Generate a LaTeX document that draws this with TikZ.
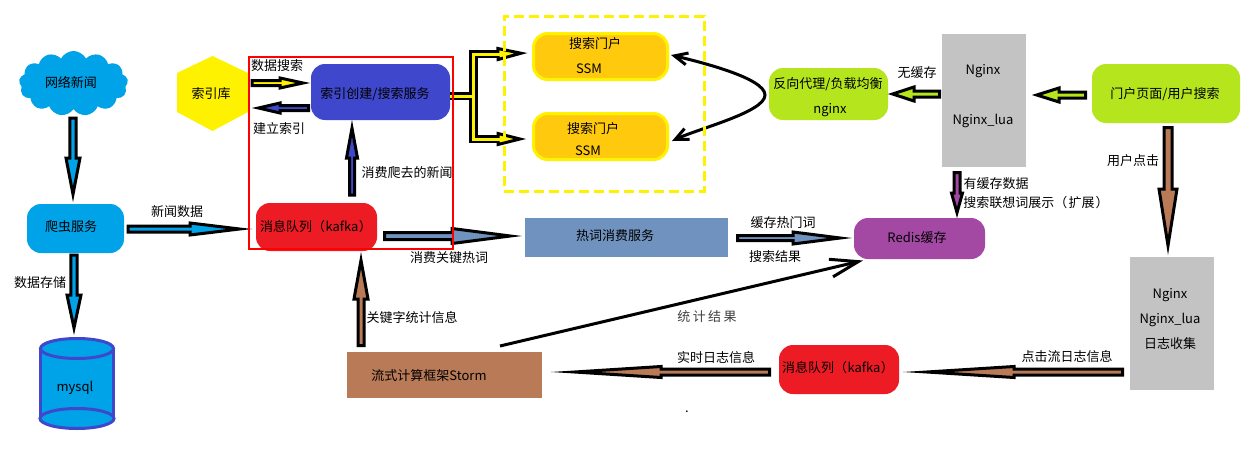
\documentclass[tikz,border=0pt]{standalone}
\usepackage{fontspec}
\setmainfont{Noto Sans CJK SC}
\usetikzlibrary{calc,arrows.meta,shapes.symbols}
\definecolor{cyanfill}{HTML}{00A2E8}
\definecolor{indigofill}{HTML}{3F48CC}
\definecolor{redfill}{HTML}{ED1C24}
\definecolor{yellowfill}{HTML}{FFF200}
\definecolor{amberfill}{HTML}{FFC90E}
\definecolor{limefill}{HTML}{B5E61D}
\definecolor{greyfill}{HTML}{C3C3C3}
\definecolor{steelfill}{HTML}{7092BE}
\definecolor{purplefill}{HTML}{A349A4}
\definecolor{brownfill}{HTML}{B97A57}
\newcommand\off[3]{\raisebox{\dimexpr -#2pt - 4.6pt\relax}{\makebox[0pt][c]{\hspace*{#1pt}\hspace*{#1pt}#3}}}
\newcommand\tx[1]{\off{0}{0}{#1}}
\tikzset{
  every node/.style={inner sep=0pt,outer sep=0pt,text height=0pt,text depth=0pt,font=\fontsize{13}{15}\selectfont},
  lbl/.style={},
  rbox/.style={rectangle,rounded corners=14pt,minimum width=#1},
  sbox/.style={rectangle,minimum width=#1},
  blockarrow/.style n args={4}{draw=black,fill=#1,line width=3pt,line join=miter,miter limit=80,
    to path={let \p1=($(\tikztotarget)-(\tikztostart)$),\n1={atan2(\y1,\x1)},\n2={veclen(\x1,\y1)} in
      {[shift={(\tikztostart)},rotate=\n1]
       (0pt,#2pt) -- (\n2-#4pt,#2pt) -- (\n2-#4pt,#3pt) -- ({\n2-1.5pt*#4/(#3+1.5)},0pt) -- (\n2-#4pt,-#3pt) -- (\n2-#4pt,-#2pt) -- (0pt,-#2pt) -- cycle}}},
  headonly/.style n args={3}{draw=black,fill=#1,line width=3pt,line join=miter,miter limit=80,
    to path={let \p1=($(\tikztotarget)-(\tikztostart)$),\n1={atan2(\y1,\x1)},\n2={veclen(\x1,\y1)} in
      {[shift={(\tikztostart)},rotate=\n1]
       (0pt,#2pt) -- (\n2-7pt,0pt) -- (0pt,-#2pt) -- cycle}}},
  barbline/.style={draw=black,line width=3pt},
}
\begin{document}
\begin{tikzpicture}[x=1pt,y=-1pt]
\useasboundingbox[fill=white] (0,0) rectangle (1256,458);
% hexagon and cylinder bodies
\fill[yellowfill] (212.5,56) -- (248,73) -- (248,112) -- (212.5,131) -- (177,112) -- (177,73) -- cycle;
\fill[cyanfill] (40.5,348.5) rectangle (113.5,418.5);
\draw[indigofill,line width=3pt] (40.5,348.5) -- (40.5,418.5) (113.5,348.5) -- (113.5,418.5);
\draw[indigofill,line width=3pt,fill=cyanfill] (77,418.5) ellipse (37 and 10);
\draw[indigofill,line width=3pt,fill=cyanfill] (77,348.5) ellipse (36.5 and 10);
% nodes
\node[cloud,cloud puffs=13,cloud puff arc=125,cloud ignores aspect,minimum width=109pt,minimum height=65pt,fill=cyanfill] (news) at (73.5,83.5) {\off{-2.5}{-0.5}{网络新闻}};
\node[rbox=97pt,minimum height=49pt,fill=cyanfill] (crawler) at (75.5,228.5) {\off{-4.5}{-1.5}{爬虫服务}};
\node[minimum width=73pt,minimum height=90pt] (mysql) at (77,383.5) {\off{-2}{3.5}{mysql}};
\node[minimum width=71pt,minimum height=75pt] (lib) at (212.5,93.5) {\off{-1.5}{0.5}{索引库}};
\node[rbox=139pt,minimum height=56pt,fill=indigofill] (search) at (380.5,92) {\off{-5.5}{2}{索引创建/搜索服务}};
\node[rbox=121pt,minimum height=48pt,fill=redfill] (kafkaa) at (316.5,227) {\off{-0.5}{0}{消息队列（\hspace{0.5pt}kafka\hspace{0.5pt}）}};
\node[sbox=203pt,minimum height=39pt,fill=steelfill] (hot) at (626.5,237.5) {\off{-11.5}{-1.5}{热词消费服务}};
\node[rbox=134pt,minimum height=46pt,draw=yellowfill,line width=3pt,fill=amberfill] (portala) at (600.5,56.5) {\off{-5.5}{-12.5}{搜索门户}\off{-11.5}{12.5}{SSM}};
\node[rbox=134pt,minimum height=46pt,draw=yellowfill,line width=3pt,fill=amberfill] (portalb) at (600.5,136.5) {\off{-7.5}{-7.5}{搜索门户}\off{-12.5}{14.5}{SSM}};
\node[rbox=119pt,minimum height=52pt,fill=limefill] (proxy) at (828.5,94) {\off{-0.5}{-10}{反向代理/负载均衡}\off{1.5}{15}{nginx}};
\node[sbox=84pt,minimum height=133pt,fill=greyfill] (nginx) at (984,100.5) {\off{-1}{-30.5}{Nginx}\off{-1}{19.5}{Nginx\_lua}};
\node[rbox=148pt,minimum height=59pt,fill=limefill] (page) at (1166,93.5) {\off{-1}{0.5}{门户页面/用户搜索}};
\node[rbox=131pt,minimum height=41pt,fill=purplefill] (redis) at (919.5,238.5) {\off{-2.5}{-0.5}{Redis缓存}};
\node[sbox=195pt,minimum height=46pt,fill=brownfill] (storm) at (444.5,375) {\off{-15.5}{1}{流式计算框架Storm}};
\node[rbox=120pt,minimum height=49pt,fill=redfill] (kafkab) at (839,369.5) {\off{-1}{-1.5}{消息队列（\hspace{0.5pt}kafka\hspace{0.5pt}）}};
\node[sbox=84pt,minimum height=133pt,fill=greyfill] (logs) at (1172,323.5) {\off{-2}{-29.5}{Nginx}\off{-2}{-4.5}{Nginx\_lua}\off{-2}{20.5}{日志收集}};
% block arrows
\draw[blockarrow={cyanfill}{3.2}{7}{44}] ($(news.center)+(-0.5,34.5)$) to ($(crawler.north)+(-2.5,-2)$);
\draw[blockarrow={cyanfill}{3.2}{7}{40}] ($(crawler.south)+(-1.5,2)$) to ($(mysql.north)+(-3,-3.5)$);
\draw[blockarrow={cyanfill}{3}{6}{62}] ($(crawler.east)+(4,0.5)$) to ($(kafkaa.west)+(-4,2)$);
\draw[blockarrow={yellowfill}{2.5}{5}{30}] ($(lib.east)+(4,-10.5)$) to ($(search.west)+(-1,-9)$);
\draw[blockarrow={indigofill}{2.5}{5}{28}] ($(search.west)+(-2.5,16)$) to ($(lib.east)+(4,14.5)$);
\draw[blockarrow={indigofill}{2.5}{5.5}{38}] ($(kafkaa.north)+(35.5,-8)$) to ($(search.south)+(-28.5,0)$);
\draw[blockarrow={steelfill}{3.5}{7.5}{70}] ($(kafkaa.east)+(7.5,9)$) to ($(hot.west)+(-3,-1.5)$);
\draw[blockarrow={steelfill}{2.5}{6}{59}] ($(hot.east)+(9.5,0.5)$) to ($(redis.west)+(-2,-0.5)$);
\draw[blockarrow={brownfill}{3}{7}{47}] ($(storm.north)+(-83.5,-6.5)$) to ($(kafkaa.south)+(44.5,1)$);
\draw[blockarrow={brownfill}{3}{5.5}{110}] ($(kafkab.west)+(-9.5,2.5)$) to ($(storm.east)+(9,-3)$);
\draw[blockarrow={brownfill}{3}{5.5}{111}] ($(logs.west)+(-7.5,48.5)$) to ($(kafkab.east)+(4,2.5)$);
\draw[blockarrow={brownfill}{4}{9}{66}] ($(page.south)+(2,4.5)$) to ($(logs.north)+(-4,-2)$);
\draw[blockarrow={limefill}{3}{7}{27}] ($(page.west)+(-6.5,1.5)$) to ($(nginx.east)+(6,-5.5)$);
\draw[blockarrow={limefill}{3}{7}{26}] ($(nginx.west)+(-2.5,-6.5)$) to (proxy.east);
\draw[blockarrow={purplefill}{3}{5.5}{25}] ($(nginx.south)+(-27,5.5)$) to ($(redis.north)+(37.5,0)$);
% forked arrow from the search service to both portals
\coordinate (fork) at ($(search.east)+(23.5,4)$);
\coordinate (forkup) at (473.5,54);
\coordinate (forkdown) at (473.5,139);
\coordinate (headup) at (498,54);
\coordinate (headdown) at (498,139);
\draw[black,line width=8.5pt,line join=miter] (headup) -- (forkup) -- (forkdown) -- (headdown);
\draw[black,line width=8.5pt] ($(search.east)+(0,4)$) -- (fork);
\draw[headonly={yellowfill}{5.5}{30}] (headup) to ($(portala.west)+(-5.5,-3.5)$);
\draw[headonly={yellowfill}{5.5}{30}] (headdown) to ($(portalb.west)+(-6.5,2.5)$);
\draw[yellowfill,line width=3pt,line join=miter] ($(headup)+(8,0)$) -- (forkup) -- (forkdown) -- ($(headdown)+(8,0)$);
\draw[yellowfill,line width=3pt] ($(search.east)+(0,4)$) -- (fork);
% thin arrows
\draw[barbline,-{Straight Barb[length=28pt,width=18pt]}] ($(storm.north)+(55.5,-6)$) -- ($(redis.south)+(-56.5,1.5)$);
\coordinate (bend) at (765,95);
\draw[barbline,{Straight Barb[length=13pt,width=12pt]}-{Straight Barb[length=13pt,width=12pt]}] ($(portala.east)+(3.5,-1.5)$) .. controls (700,62) and (765,78) .. (bend) .. controls (765,112) and (700,128) .. ($(portalb.east)+(4.5,4.5)$);
% frames
\node[rectangle,draw=red,line width=2pt,minimum width=204pt,minimum height=192pt] (core) at (350.5,152.5) {};
\node[rectangle,draw=yellowfill,line width=3pt,dash pattern=on 10pt off 5pt,minimum width=200pt,minimum height=175pt] (portals) at (604,103.5) {};
% labels
\node[lbl] (t1) at (177,212) {\tx{新闻数据}};
\node[lbl] (t2) at (40,283) {\tx{数据存储}};
\node[lbl] (t3) at (277,66) {\tx{数据搜索}};
\node[lbl] (t4) at (279,129) {\tx{建立索引}};
\node[lbl] (t5) at (407,173) {\tx{消费爬去的新闻}};
\node[lbl] (t6) at (449,258) {\tx{消费关键热词}};
\node[lbl] (t7) at (412,318) {\tx{关键字统计信息}};
\node[lbl] (t8) at (707,317) {\color{black!75}\tx{统\hspace{2.5pt}计\hspace{2.5pt}结\hspace{2.5pt}果}};
\node[lbl] (t9) at (716,358) {\tx{实时日志信息}};
\node[lbl] (t10) at (1067,357) {\tx{点击流日志信息}};
\node[lbl] (t11) at (783,223) {\tx{缓存热门词}};
\node[lbl] (t12) at (775,257) {\tx{搜索结果}};
\node[lbl] (t13) at (917,73) {\tx{无缓存}};
\node[lbl] (t14) at (996,184) {\tx{有缓存数据}};
\node[lbl] (t15) at (1036,203) {\tx{搜索联想词展示（\hspace{1.2pt}扩展\hspace{1.2pt}）}};
\node[lbl] (t16) at (1133,161) {\tx{用户点击}};
\node[lbl] (dot) at (687,408) {\tx{.}};
\end{tikzpicture}
\end{document}
